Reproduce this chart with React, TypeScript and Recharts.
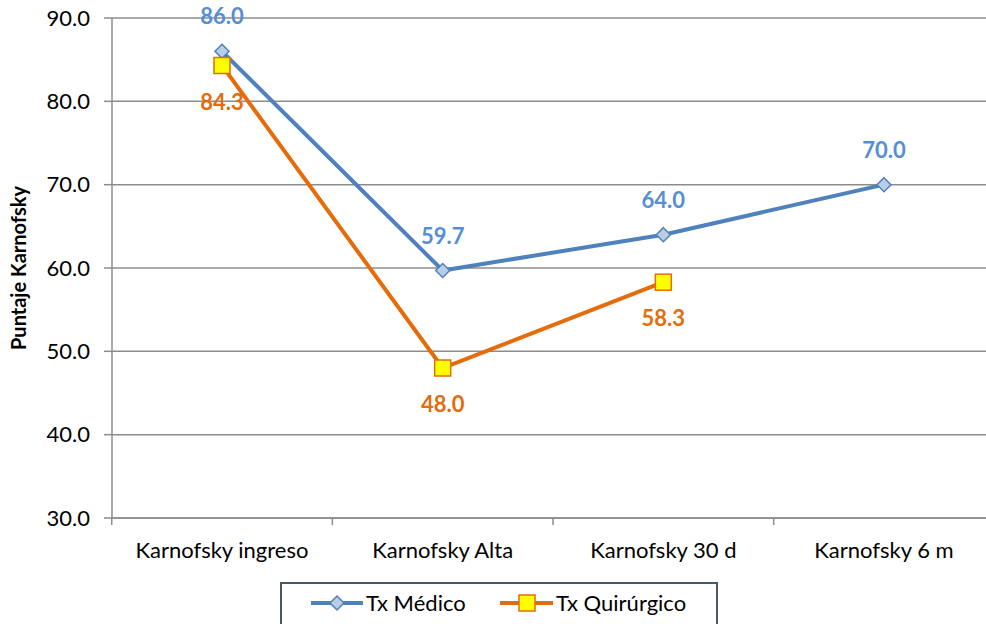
import React from "react";
import { LineChart, Line, XAxis, YAxis, CartesianGrid, LabelList } from "recharts";

const categories = ["Karnofsky ingreso", "Karnofsky Alta", "Karnofsky 30 d", "Karnofsky 6 m"];
const medico: (number | null)[] = [86.0, 59.7, 64.0, 70.0];
const quirurgico: (number | null)[] = [84.3, 48.0, 58.3, null];
const yTicks = [30, 40, 50, 60, 70, 80, 90];

const data = categories.map((c, i) => ({ cat: c, medico: medico[i], quirurgico: quirurgico[i] }));

const FONT = "Lato, 'Open Sans', sans-serif";
const BLUE = "#4F81BD";
const BLUE_FILL = "#B9CDE5";
const BLUE_TXT = "#558ED5";
const ORANGE = "#E46C0A";
const YELLOW = "#FFFF00";
const GRID = "#8c8c8c";

const HALF_BAND = 110.3;

const Diamond = (props: any) => {
  const { cx, cy } = props;
  if (cx == null || cy == null || props.value == null) return null;
  const r = 7;
  return (
    <path
      d={`M${cx},${cy - r} L${cx + r},${cy} L${cx},${cy + r} L${cx - r},${cy} Z`}
      fill={BLUE_FILL}
      stroke={BLUE}
      strokeWidth={1.5}
    />
  );
};

const Square = (props: any) => {
  const { cx, cy } = props;
  if (cx == null || cy == null || props.value == null) return null;
  const r = 8;
  return <rect x={cx - r} y={cy - r} width={2 * r} height={2 * r} fill={YELLOW} stroke={ORANGE} strokeWidth={1.5} />;
};

const makeLabel = (color: string, dy: number) => (props: any) => {
  const { x, y, value } = props;
  if (value == null) return null;
  return (
    <text x={x} y={y + dy} textAnchor="middle" fill={color} fontFamily={FONT} fontWeight="bold" fontSize={22}>
      {Number(value).toFixed(1)}
    </text>
  );
};

const XTick = (props: any) => {
  const { x, y, payload, index } = props;
  const axisY = 518;
  return (
    <g>
      <line x1={x - HALF_BAND} y1={axisY} x2={x - HALF_BAND} y2={axisY + 7} stroke={GRID} strokeWidth={1.5} />
      {index === categories.length - 1 && (
        <line x1={x + HALF_BAND} y1={axisY} x2={x + HALF_BAND} y2={axisY + 7} stroke={GRID} strokeWidth={1.5} />
      )}
      <text x={x} y={axisY + 40} textAnchor="middle" fill="#000" fontFamily={FONT} fontSize={22}>
        {payload.value}
      </text>
    </g>
  );
};

export default function App() {
  return (
    <div style={{ position: "absolute", left: 0, top: 0, width: 986, height: 624, overflow: "hidden", background: "#fff" }}>
      <LineChart width={1000} height={624} data={data} margin={{ top: 18, right: 6, left: 0, bottom: 0 }}>
        <CartesianGrid vertical={false} stroke={GRID} strokeWidth={1.5} />
        <XAxis
          dataKey="cat"
          height={106}
          padding={{ left: 110, right: 110 }}
          axisLine={{ stroke: GRID, strokeWidth: 1.5 }}
          tickLine={false}
          tick={<XTick />}
          interval={0}
        />
        <YAxis
          width={112}
          domain={[30, 90]}
          ticks={yTicks}
          interval={0}
          tickFormatter={(v: number) => v.toFixed(1)}
          axisLine={{ stroke: GRID, strokeWidth: 1.5 }}
          tickLine={{ stroke: GRID, strokeWidth: 1.5 }}
          tickSize={8}
          tickMargin={14}
          tick={{ fill: "#000", fontFamily: FONT, fontSize: 22 }}
          label={{
            value: "Puntaje Karnofsky",
            angle: -90,
            position: "insideLeft",
            dx: 14,
            style: { textAnchor: "middle", fontFamily: FONT, fontWeight: "bold", fontSize: 20, fill: "#000" },
          }}
        />
        <Line
          type="linear"
          dataKey="medico"
          stroke={BLUE}
          strokeWidth={4}
          dot={<Diamond />}
          activeDot={false}
          isAnimationActive={false}
        >
          <LabelList dataKey="medico" content={makeLabel(BLUE_TXT, -27)} />
        </Line>
        <Line
          type="linear"
          dataKey="quirurgico"
          stroke={ORANGE}
          strokeWidth={4}
          dot={<Square />}
          activeDot={false}
          isAnimationActive={false}
        >
          <LabelList dataKey="quirurgico" content={makeLabel(ORANGE, 44)} />
        </Line>
      </LineChart>
      <div
        style={{
          position: "absolute",
          left: 280,
          top: 582,
          width: 438,
          height: 60,
          border: "2px solid #4a5866",
          boxSizing: "border-box",
          background: "#fff",
        }}
      >
        <svg width={438} height={60} style={{ position: "absolute", left: -2, top: -2 }}>
          <line x1={31} y1={21} x2={83} y2={21} stroke={BLUE} strokeWidth={4} />
          <path d="M57,14 L64,21 L57,28 L50,21 Z" fill={BLUE_FILL} stroke={BLUE} strokeWidth={1.5} />
          <text x={86} y={29} fontFamily={FONT} fontSize={22} fill="#000">Tx Médico</text>
          <line x1={220} y1={21} x2={273} y2={21} stroke={ORANGE} strokeWidth={4} />
          <rect x={239} y={13} width={16} height={16} fill={YELLOW} stroke={ORANGE} strokeWidth={1.5} />
          <text x={276} y={29} fontFamily={FONT} fontSize={22} fill="#000">Tx Quirúrgico</text>
        </svg>
      </div>
    </div>
  );
}
